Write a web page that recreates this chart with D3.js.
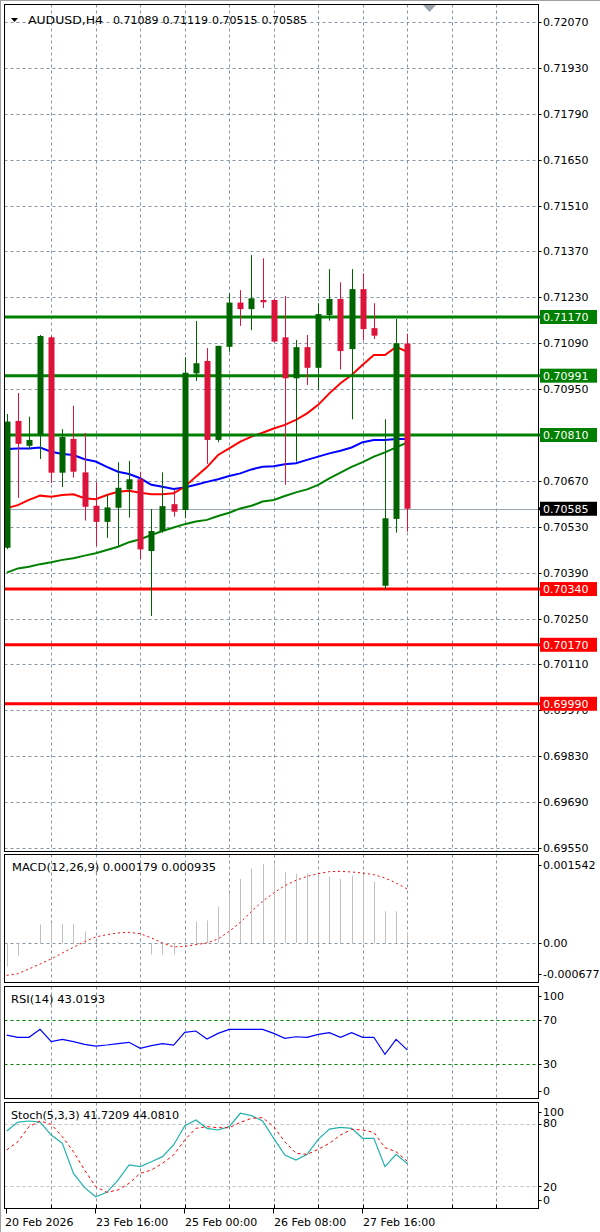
<!DOCTYPE html>
<html><head><meta charset="utf-8">
<script src="https://cdn.jsdelivr.net/npm/d3@7"></script>
<style>
html,body{margin:0;padding:0;background:#fff;}
svg{display:block;}
text{font-family:"DejaVu Sans",sans-serif;font-size:11px;fill:#000;}
</style></head><body>
<svg id="c" width="600" height="1232"></svg>
<script>
// ---------------- DATA ----------------
const symbolTitle = "AUDUSD,H4";
const headerValues = ["0.71089", "0.71119", "0.70515", "0.70585"];
const timeLabels = ["20 Feb 2026", "23 Feb 16:00", "25 Feb 00:00", "26 Feb 08:00", "27 Feb 16:00"];
const timeLabelIdx = [0, 8, 16, 24, 32];
const gridIdx = [4, 8, 12, 16, 20, 24, 28, 32, 36, 40, 44];
const priceTicks = [0.72070, 0.71930, 0.71790, 0.71650, 0.71510, 0.71370, 0.71230, 0.71090, 0.70950, 0.70810,
  0.70670, 0.70530, 0.70390, 0.70250, 0.70110, 0.69970, 0.69830, 0.69690, 0.69550];
const resistanceLevels = [0.71170, 0.70991, 0.70810];
const supportLevels = [0.70340, 0.70170, 0.69990];
const lastPrice = 0.70585;

const open  = [0.70466,0.70853,0.70777,0.70810,0.71108,0.70695,0.70798,0.70696,0.70594,0.70545,0.70588,0.70644,0.70675,0.70456,0.70517,0.70599,0.70581,0.70998,0.71036,0.70795,0.71079,0.71214,0.71194,0.71222,0.71222,0.71108,0.70983,0.71078,0.71015,0.71176,0.71225,0.71072,0.71255,0.71136,0.70350,0.70554,0.71089];
const high  = [0.70874,0.70938,0.70866,0.71115,0.71112,0.70828,0.70899,0.70816,0.70666,0.70627,0.70727,0.70731,0.70698,0.70584,0.70696,0.70642,0.71047,0.71158,0.71075,0.71082,0.71242,0.71252,0.71359,0.71349,0.71226,0.71234,0.71100,0.71115,0.71212,0.71316,0.71276,0.71316,0.71303,0.71212,0.70858,0.71164,0.71119];
const low   = [0.70462,0.70618,0.70766,0.70737,0.70664,0.70651,0.70680,0.70549,0.70471,0.70496,0.70472,0.70558,0.70431,0.70258,0.70512,0.70561,0.70556,0.70975,0.70722,0.70788,0.71064,0.71143,0.71130,0.71197,0.71092,0.70658,0.70729,0.70963,0.70949,0.71159,0.71010,0.70858,0.71100,0.71103,0.70339,0.70512,0.70515];
const close = [0.70851,0.70783,0.70795,0.71112,0.70695,0.70804,0.70698,0.70591,0.70545,0.70589,0.70649,0.70675,0.70461,0.70517,0.70593,0.70576,0.71000,0.71029,0.70795,0.71082,0.71214,0.71194,0.71227,0.71215,0.71095,0.70983,0.71078,0.71015,0.71179,0.71225,0.71066,0.71255,0.71133,0.71113,0.70556,0.71090,0.70585];

const maFast = [0.70587,0.70596,0.70612,0.70625,0.70622,0.70627,0.70629,0.70617,0.70614,0.70627,0.70637,0.70640,0.70634,0.70629,0.70629,0.70632,0.70652,0.70683,0.70712,0.70749,0.70769,0.70790,0.70805,0.70817,0.70830,0.70841,0.70856,0.70876,0.70902,0.70937,0.70968,0.70993,0.71024,0.71054,0.71054,0.71079,0.71064];
const maMid  = [0.70767,0.70769,0.70769,0.70772,0.70759,0.70752,0.70749,0.70736,0.70729,0.70713,0.70698,0.70691,0.70678,0.70658,0.70652,0.70645,0.70650,0.70658,0.70667,0.70675,0.70685,0.70693,0.70705,0.70713,0.70715,0.70721,0.70724,0.70734,0.70744,0.70754,0.70762,0.70772,0.70788,0.70795,0.70795,0.70798,0.70798];
const maSlow = [0.70390,0.70403,0.70408,0.70416,0.70422,0.70429,0.70434,0.70442,0.70449,0.70459,0.70469,0.70483,0.70492,0.70505,0.70517,0.70528,0.70538,0.70546,0.70551,0.70563,0.70573,0.70586,0.70594,0.70607,0.70612,0.70624,0.70635,0.70644,0.70658,0.70678,0.70695,0.70713,0.70727,0.70744,0.70757,0.70772,0.70787];

const macdTitle = "MACD(12,26,9) 0.000179 0.000935";
const macdHist = [-0.00041,-0.00022,0.00001,0.00032,0.00033,0.00033,0.00033,0.00020,0.00002,0.00001,0.00001,0.00001,0.00001,-0.00020,-0.00020,-0.00020,0.00001,0.00037,0.00039,0.00063,0.00085,0.00111,0.00129,0.00137,0.00136,0.00123,0.00120,0.00120,0.00120,0.00115,0.00111,0.00117,0.00117,0.00106,0.00055,0.00055,0.000179];
const macdSignal = [-0.000562,-0.000532,-0.000451,-0.000364,-0.000277,-0.000173,-0.000076,0.000023,0.000104,0.000144,0.000173,0.000184,0.000161,0.000087,0.000000,-0.000069,-0.000059,-0.000029,0.000000,0.000069,0.000201,0.000357,0.000548,0.000721,0.000867,0.000993,0.001085,0.001154,0.001201,0.001236,0.001241,0.001230,0.001213,0.001184,0.001126,0.001040,0.000935];
const macdTickLabels = ["0.001542", "0.00", "-0.000677"];

const rsiTitle = "RSI(14) 43.0193";
const rsi = [56.2,54.2,54.2,61.3,50.3,52.4,50.3,47.9,46.4,47.3,48.5,49.7,44.4,46.7,48.5,47.3,58.6,59.8,52.7,57.7,61.3,61.3,61.3,61.3,57.7,53.3,54.7,54.2,56.8,58.3,54.2,58.3,54.2,54.2,39.0,52.4,43.0193];
const rsiTicks = [100, 70, 30, 0];
const rsiLevels = [70, 30];

const stochTitle = "Stoch(5,3,3) 41.7209 44.0810";
const stochMain = [73.3,82.0,83.0,82.0,69.4,61.3,32.2,18.3,9.5,13.8,25.7,40.3,38.7,43.5,48.4,59.7,78.2,84.0,75.9,74.3,77.5,90.5,88.2,83.0,66.2,50.0,45.1,50.6,65.2,75.2,76.9,75.9,66.2,66.2,38.7,50.6,41.7209];
const stochSignal = [54.9,62.9,77.5,83.0,79.8,67.8,53.2,35.4,19.2,13.8,16.0,22.5,32.2,35.4,41.9,50.0,64.6,75.9,77.5,76.5,76.5,81.7,85.6,86.2,77.5,62.9,51.6,50.6,55.5,61.3,69.4,74.9,74.3,72.0,57.1,53.2,44.081];
const stochTicks = [100, 80, 20, 0];
const stochLevels = [80, 20];

// ---------------- LAYOUT ----------------
const svg = d3.select("#c");
const L = 4.5, R = 538.5;
const P = {
  main:  {top: 4.5,   bottom: 851.5},
  macd:  {top: 854.5, bottom: 982.5},
  rsi:   {top: 986.5, bottom: 1098.5},
  stoch: {top: 1102.5, bottom: 1208.5}
};
const gridColor = "#8595a5";
const bull = "#006400", bear = "#dc143c";
const idx = d3.range(close.length);

const x = d3.scaleLinear().domain([-0.2, 47.8]).range([L, R]);
const y = d3.scaleLinear().domain([0.69550, 0.72070]).range([848, 22]);
const yM = d3.scaleLinear().domain([-0.000677, 0.001542]).range([P.macd.bottom - 0.5, P.macd.top - 0.5]);
const yR = d3.scaleLinear().domain([0, 100]).range([P.rsi.bottom - 0.5, P.rsi.top - 0.5]);
const yS = d3.scaleLinear().domain([0, 100]).range([1206.5, 1103.5]);

// outer frame
svg.append("line").attr("x1", 0).attr("x2", 600).attr("y1", 0.5).attr("y2", 0.5).attr("stroke", "#a0a0a0");
svg.append("line").attr("x1", 0.5).attr("x2", 0.5).attr("y1", 0).attr("y2", 1232).attr("stroke", "#a0a0a0");

const defs = svg.append("defs");
Object.entries(P).forEach(([k, p]) => {
  defs.append("clipPath").attr("id", "clip-" + k).append("rect")
    .attr("x", L).attr("y", p.top).attr("width", R - L).attr("height", p.bottom - p.top);
});

function panel(key) {
  const g = svg.append("g");
  const p = P[key];
  const inner = g.append("g").attr("clip-path", `url(#clip-${key})`);
  inner.selectAll("line.vg").data(gridIdx).join("line").attr("class", "vg")
    .attr("x1", d => Math.round(x(d)) + 0.5).attr("x2", d => Math.round(x(d)) + 0.5)
    .attr("y1", p.top).attr("y2", p.bottom)
    .attr("stroke", gridColor).attr("stroke-dasharray", "3,3");
  return {g, inner, p};
}
function border(g, p) {
  g.append("rect").attr("x", L).attr("y", p.top).attr("width", R - L).attr("height", p.bottom - p.top)
    .attr("fill", "none").attr("stroke", "#000").attr("stroke-width", 1);
}
function rightLabel(g, yy, txt, dy) {
  g.append("line").attr("x1", R).attr("x2", R + 3).attr("y1", Math.round(yy) + 0.5).attr("y2", Math.round(yy) + 0.5).attr("stroke", "#000");
  return g.append("text").attr("x", 543).attr("y", yy + dy).text(txt);
}

// ---------------- MAIN PANEL ----------------
{
  const {g, inner, p} = panel("main");
  inner.selectAll("line.hg").data(priceTicks).join("line").attr("class", "hg")
    .attr("x1", L).attr("x2", R)
    .attr("y1", d => Math.round(y(d)) + 0.5).attr("y2", d => Math.round(y(d)) + 0.5)
    .attr("stroke", gridColor).attr("stroke-dasharray", "3,3");

  inner.append("line").attr("x1", L).attr("x2", R)
    .attr("y1", Math.round(y(lastPrice)) + 0.5).attr("y2", Math.round(y(lastPrice)) + 0.5)
    .attr("stroke", "#9aa6b2").attr("stroke-width", 1);

  const lineGen = arr => d3.line().x(i => x(i)).y(i => y(arr[i]))(idx);
  inner.append("path").attr("d", lineGen(maSlow)).attr("fill", "none").attr("stroke", "#008000").attr("stroke-width", 2);
  inner.append("path").attr("d", lineGen(maMid)).attr("fill", "none").attr("stroke", "#0000ff").attr("stroke-width", 2);
  inner.append("path").attr("d", lineGen(maFast)).attr("fill", "none").attr("stroke", "#ff0000").attr("stroke-width", 2);

  inner.selectAll("line.res").data(resistanceLevels).join("line").attr("class", "res")
    .attr("x1", L).attr("x2", R).attr("y1", d => y(d)).attr("y2", d => y(d))
    .attr("stroke", "#008000").attr("stroke-width", 3);
  inner.selectAll("line.sup").data(supportLevels).join("line").attr("class", "sup")
    .attr("x1", L).attr("x2", R).attr("y1", d => y(d)).attr("y2", d => y(d))
    .attr("stroke", "#ff0000").attr("stroke-width", 3);

  const cg = inner.selectAll("g.candle").data(idx).join("g").attr("class", "candle");
  cg.append("line")
    .attr("x1", i => Math.round(x(i)) + 0.5).attr("x2", i => Math.round(x(i)) + 0.5)
    .attr("y1", i => y(high[i])).attr("y2", i => y(low[i]))
    .attr("stroke", i => close[i] >= open[i] ? bull : bear).attr("stroke-width", 1);
  cg.append("rect")
    .attr("x", i => Math.round(x(i)) - 2.5).attr("width", 6)
    .attr("y", i => y(Math.max(open[i], close[i])))
    .attr("height", i => Math.max(1, Math.abs(y(open[i]) - y(close[i]))))
    .attr("fill", i => close[i] >= open[i] ? bull : bear);

  border(g, p);

  // price axis labels (those under a level box are clipped to the part left visible)
  defs.append("clipPath").attr("id", "clip-axis").append("rect")
    .attr("x", 539).attr("y", y(0.69990) + 7).attr("width", 61).attr("height", 20);
  priceTicks.forEach(t => {
    const hidden = resistanceLevels.concat(supportLevels).some(v => Math.abs(y(v) - y(t)) < 6);
    const partial = !hidden && supportLevels.some(v => Math.abs(y(v) - y(t)) < 12);
    const tx = rightLabel(g, y(t), t.toFixed(5), 4);
    if (hidden) tx.remove();
    else if (partial) tx.attr("clip-path", "url(#clip-axis)");
  });

  const box = (val, color) => {
    const yy = y(val);
    g.append("line").attr("x1", R).attr("x2", 541).attr("y1", yy).attr("y2", yy).attr("stroke", color).attr("stroke-width", 3);
    g.append("rect").attr("x", 540).attr("y", yy - 7).attr("width", 57).attr("height", 14).attr("fill", color);
    g.append("text").attr("x", 543).attr("y", yy + 4).style("fill", "#fff").text(val.toFixed(5));
  };
  resistanceLevels.forEach(v => box(v, "#008000"));
  supportLevels.forEach(v => box(v, "#ff0000"));
  box(lastPrice, "#000");

  // header
  g.append("path").attr("d", "M11,18 L18,18 L14.5,22 Z").attr("fill", "#000");
  g.append("text").attr("x", 28).attr("y", 24).attr("textLength", 75).attr("lengthAdjust", "spacingAndGlyphs").text(symbolTitle);
  g.selectAll("text.hv").data(headerValues).join("text").attr("class", "hv")
    .attr("x", (d, k) => 113 + k * 49.5).attr("y", 24).text(d => d);
  g.append("path").attr("d", "M423,5 L436,5 L429.5,12 Z").attr("fill", "#9ba4ad");
}

// ---------------- MACD ----------------
{
  const {g, inner, p} = panel("macd");
  inner.append("line").attr("x1", L).attr("x2", R)
    .attr("y1", Math.round(yM(0)) + 0.5).attr("y2", Math.round(yM(0)) + 0.5)
    .attr("stroke", gridColor).attr("stroke-dasharray", "3,3");
  inner.selectAll("line.h").data(idx).join("line").attr("class", "h")
    .attr("x1", i => Math.round(x(i)) + 0.5).attr("x2", i => Math.round(x(i)) + 0.5)
    .attr("y1", yM(0)).attr("y2", i => yM(macdHist[i]))
    .attr("stroke", "#c0c0c0").attr("stroke-width", 1);
  inner.append("path").attr("d", d3.line().x(i => x(i)).y(i => yM(macdSignal[i]))(idx))
    .attr("fill", "none").attr("stroke", "#ff0000").attr("stroke-width", 1).attr("stroke-dasharray", "2,3");
  border(g, p);
  g.append("text").attr("x", 12).attr("y", 871).attr("textLength", 204).attr("lengthAdjust", "spacingAndGlyphs").text(macdTitle);
  rightLabel(g, P.macd.top + 10, macdTickLabels[0], 4);
  rightLabel(g, yM(0), macdTickLabels[1], 4);
  rightLabel(g, P.macd.bottom - 9, macdTickLabels[2], 4);
}

// ---------------- RSI ----------------
{
  const {g, inner, p} = panel("rsi");
  inner.selectAll("line.lv").data(rsiLevels).join("line").attr("class", "lv")
    .attr("x1", L).attr("x2", R)
    .attr("y1", d => Math.round(yR(d)) + 0.5).attr("y2", d => Math.round(yR(d)) + 0.5)
    .attr("stroke", "#008000").attr("stroke-dasharray", "3,3");
  inner.append("path").attr("d", d3.line().x(i => x(i)).y(i => yR(rsi[i]))(idx))
    .attr("fill", "none").attr("stroke", "#0000ff").attr("stroke-width", 1.2);
  border(g, p);
  g.append("text").attr("x", 11).attr("y", 1003).attr("textLength", 94).attr("lengthAdjust", "spacingAndGlyphs").text(rsiTitle);
  rightLabel(g, P.rsi.top + 9, String(rsiTicks[0]), 4);
  rightLabel(g, yR(70), String(rsiTicks[1]), 4);
  rightLabel(g, yR(30), String(rsiTicks[2]), 4);
  rightLabel(g, P.rsi.bottom - 8, String(rsiTicks[3]), 4);
}

// ---------------- STOCH ----------------
{
  const {g, inner, p} = panel("stoch");
  inner.selectAll("line.lv").data(stochLevels).join("line").attr("class", "lv")
    .attr("x1", L).attr("x2", R)
    .attr("y1", d => Math.round(yS(d)) + 0.5).attr("y2", d => Math.round(yS(d)) + 0.5)
    .attr("stroke", "#c0c0c0").attr("stroke-dasharray", "3,3");
  inner.append("path").attr("d", d3.line().x(i => x(i)).y(i => yS(stochMain[i]))(idx))
    .attr("fill", "none").attr("stroke", "#20b2aa").attr("stroke-width", 1.2);
  inner.append("path").attr("d", d3.line().x(i => x(i)).y(i => yS(stochSignal[i]))(idx))
    .attr("fill", "none").attr("stroke", "#ff0000").attr("stroke-width", 1).attr("stroke-dasharray", "3,3");
  border(g, p);
  g.append("text").attr("x", 11).attr("y", 1119).attr("textLength", 168).attr("lengthAdjust", "spacingAndGlyphs").text(stochTitle);
  rightLabel(g, P.stoch.top + 9, String(stochTicks[0]), 4);
  rightLabel(g, yS(80), String(stochTicks[1]), 3);
  rightLabel(g, yS(20), String(stochTicks[2]), 5);
  rightLabel(g, P.stoch.bottom - 9, String(stochTicks[3]), 4);

  const ax = svg.append("g");
  ax.selectAll("line.t").data(gridIdx).join("line").attr("class", "t")
    .attr("x1", i => Math.round(x(i)) + 0.5).attr("x2", i => Math.round(x(i)) + 0.5)
    .attr("y1", P.stoch.bottom - 4).attr("y2", P.stoch.bottom)
    .attr("stroke", "#000");
  ax.selectAll("line.tl").data(timeLabelIdx).join("line").attr("class", "tl")
    .attr("x1", i => Math.round(x(i)) - 0.5).attr("x2", i => Math.round(x(i)) - 0.5)
    .attr("y1", P.stoch.bottom).attr("y2", P.stoch.bottom + 5)
    .attr("stroke", "#000");
  ax.selectAll("text.tl").data(timeLabelIdx).join("text").attr("class", "tl")
    .attr("x", (i, k) => k === 0 ? 5 : Math.round(x(i)))
    .attr("y", 1226)
    .text((i, k) => timeLabels[k]);
}
</script></body></html>
